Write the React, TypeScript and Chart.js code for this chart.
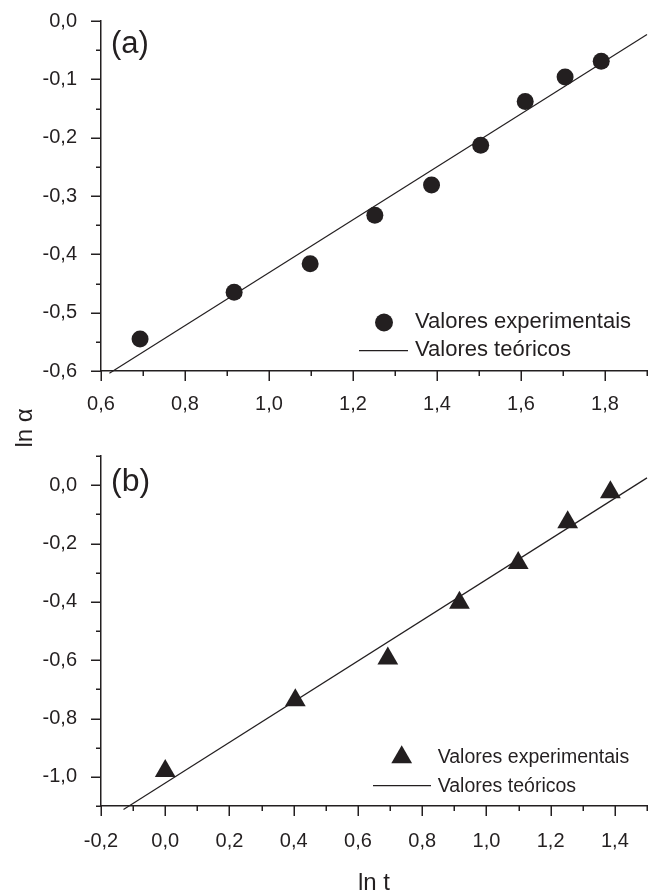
import React, { useEffect, useRef } from 'react';
import { Chart, registerables } from 'chart.js';

Chart.register(...registerables);

const INK = '#231f20';
const FONT = '"Liberation Sans", Arial, Helvetica, sans-serif';

// ---------- Panel (a) ----------
const aLnT = [0.693, 0.917, 1.098, 1.252, 1.387, 1.504, 1.61, 1.705, 1.791];
const aLnAlpha = [-0.545, -0.465, -0.416, -0.333, -0.281, -0.213, -0.138, -0.096, -0.069];
const aFitLnT = [0.62, 1.9];
const aFitLnAlpha = [-0.604, -0.023];
const aXTicks = [0.6, 0.8, 1.0, 1.2, 1.4, 1.6, 1.8];
const aXMinor = [0.7, 0.9, 1.1, 1.3, 1.5, 1.7, 1.9];
const aYTicks = [0, -0.1, -0.2, -0.3, -0.4, -0.5, -0.6];
const aYMinor = [-0.05, -0.15, -0.25, -0.35, -0.45, -0.55];

// ---------- Panel (b) ----------
const bLnT = [0.0, 0.405, 0.693, 0.916, 1.099, 1.253, 1.386];
const bLnAlpha = [-0.98, -0.737, -0.594, -0.403, -0.267, -0.127, -0.024];
const bFitLnT = [-0.13, 1.5];
const bFitLnAlpha = [-1.112, 0.025];
const bXTicks = [-0.2, 0.0, 0.2, 0.4, 0.6, 0.8, 1.0, 1.2, 1.4];
const bXMinor = [-0.1, 0.1, 0.3, 0.5, 0.7, 0.9, 1.1, 1.3, 1.5];
const bYTicks = [0.0, -0.2, -0.4, -0.6, -0.8, -1.0];
const bYMinor = [0.1, -0.1, -0.3, -0.5, -0.7, -0.9, -1.1];

const legendLabels = ['Valores experimentais', 'Valores teóricos'];
const xTitle = 'ln t';
const yTitle = 'ln α';

const fmt = (v: number) => v.toFixed(1).replace('.', ',');

function drawTriangle(ctx: CanvasRenderingContext2D, x: number, y: number, r: number) {
  ctx.beginPath();
  for (let k = 0; k < 3; k++) {
    const a = (k * 2 * Math.PI) / 3;
    const px = x + Math.sin(a) * r;
    const py = y - Math.cos(a) * r;
    if (k === 0) ctx.moveTo(px, py);
    else ctx.lineTo(px, py);
  }
  ctx.closePath();
  ctx.fill();
}

type DecorOpts = {
  xMajor: number[];
  xMinor: number[];
  yMajor: number[];
  yMinor: number[];
  panel: string;
  panelFont: number;
  panelDx: number;
  panelDy: number;
  marker: 'circle' | 'triangle';
  markerR: number;
  legend: { mx: number; my: number; tx: number; t1y: number; t2y: number; lx1: number; lx2: number; ly: number; font: number };
  drawYTitle?: boolean;
  drawXTitle?: boolean;
};

function makeDecor(o: DecorOpts) {
  return {
    id: 'decor',
    afterDraw(chart: any) {
      const ctx: CanvasRenderingContext2D = chart.ctx;
      const xs = chart.scales.x;
      const ys = chart.scales.y;
      const ca = chart.chartArea;
      ctx.save();
      ctx.strokeStyle = INK;
      ctx.fillStyle = INK;
      ctx.lineWidth = 1.5;
      ctx.beginPath();
      o.xMajor.forEach((v) => {
        const p = Math.round(xs.getPixelForValue(v)) + 0.25;
        ctx.moveTo(p, ca.bottom);
        ctx.lineTo(p, ca.bottom + 10);
      });
      o.xMinor.forEach((v) => {
        const p = Math.round(xs.getPixelForValue(v)) + 0.25;
        ctx.moveTo(p, ca.bottom);
        ctx.lineTo(p, ca.bottom + 5);
      });
      o.yMajor.forEach((v) => {
        const p = Math.round(ys.getPixelForValue(v)) + 0.25;
        ctx.moveTo(ca.left, p);
        ctx.lineTo(ca.left - 10, p);
      });
      o.yMinor.forEach((v) => {
        const p = Math.round(ys.getPixelForValue(v)) + 0.25;
        ctx.moveTo(ca.left, p);
        ctx.lineTo(ca.left - 5, p);
      });
      ctx.stroke();

      // panel label
      ctx.font = `${o.panelFont}px ${FONT}`;
      ctx.textAlign = 'left';
      ctx.textBaseline = 'alphabetic';
      ctx.fillText(o.panel, ca.left + o.panelDx, ca.top + o.panelDy);

      // legend
      const L = o.legend;
      if (o.marker === 'circle') {
        ctx.beginPath();
        ctx.arc(L.mx, L.my, o.markerR, 0, Math.PI * 2);
        ctx.fill();
      } else {
        drawTriangle(ctx, L.mx, L.my, o.markerR);
      }
      ctx.lineWidth = 1.2;
      ctx.beginPath();
      ctx.moveTo(L.lx1, L.ly);
      ctx.lineTo(L.lx2, L.ly);
      ctx.stroke();
      ctx.font = `${L.font}px ${FONT}`;
      ctx.textBaseline = 'middle';
      ctx.fillText(legendLabels[0], L.tx, L.t1y);
      ctx.fillText(legendLabels[1], L.tx, L.t2y);

      // axis titles
      if (o.drawYTitle) {
        ctx.save();
        ctx.translate(32, 428);
        ctx.rotate(-Math.PI / 2);
        ctx.font = `24px ${FONT}`;
        ctx.textAlign = 'center';
        ctx.textBaseline = 'alphabetic';
        ctx.fillText(yTitle, 0, 0);
        ctx.restore();
      }
      if (o.drawXTitle) {
        ctx.font = `24px ${FONT}`;
        ctx.textAlign = 'center';
        ctx.textBaseline = 'alphabetic';
        ctx.fillText(xTitle, 374, 890);
      }
      ctx.restore();
    },
  };
}

function makeConfig(p: {
  xs: number[];
  ys: number[];
  fitX: number[];
  fitY: number[];
  xMin: number;
  xMax: number;
  yMin: number;
  yMax: number;
  xTicks: number[];
  yTicks: number[];
  pointStyle: string;
  pointRadius: number;
  padTop: number;
  padBottom: number;
  xHeight: number;
  xPad: number;
  decor: DecorOpts;
}): any {
  return {
    type: 'scatter',
    data: {
      datasets: [
        {
          type: 'scatter',
          label: legendLabels[0],
          data: p.xs.map((x, i) => ({ x, y: p.ys[i] })),
          pointStyle: p.pointStyle,
          pointRadius: p.pointRadius,
          pointHoverRadius: p.pointRadius,
          backgroundColor: INK,
          borderColor: INK,
          borderWidth: 0,
          clip: false,
        },
        {
          type: 'line',
          label: legendLabels[1],
          data: p.fitX.map((x, i) => ({ x, y: p.fitY[i] })),
          borderColor: INK,
          borderWidth: 1.2,
          pointRadius: 0,
          fill: false,
          tension: 0,
          clip: false,
        },
      ],
    },
    options: {
      responsive: false,
      devicePixelRatio: 1,
      animation: false,
      events: [],
      layout: { autoPadding: false, padding: { top: p.padTop, bottom: p.padBottom, left: 0, right: 3 } },
      plugins: { legend: { display: false }, tooltip: { enabled: false }, title: { display: false } },
      scales: {
        x: {
          type: 'linear',
          min: p.xMin,
          max: p.xMax,
          afterBuildTicks: (s: any) => {
            s.ticks = p.xTicks.map((v) => ({ value: v }));
          },
          afterFit: (s: any) => {
            s.height = p.xHeight;
            s.paddingLeft = 0;
            s.paddingRight = 0;
            s.paddingTop = 0;
            s.paddingBottom = 0;
          },
          grid: { display: false, drawTicks: false },
          border: { display: true, color: INK, width: 1.5 },
          ticks: {
            color: INK,
            font: { family: FONT, size: 20 },
            padding: p.xPad,
            maxRotation: 0,
            autoSkip: false,
            callback: (v: any) => fmt(Number(v)),
          },
        },
        y: {
          type: 'linear',
          min: p.yMin,
          max: p.yMax,
          afterBuildTicks: (s: any) => {
            s.ticks = p.yTicks.map((v) => ({ value: v }));
          },
          afterFit: (s: any) => {
            s.width = 101;
            s.paddingLeft = 0;
            s.paddingRight = 0;
            s.paddingTop = 0;
            s.paddingBottom = 0;
          },
          grid: { display: false, drawTicks: false },
          border: { display: true, color: INK, width: 1.5 },
          ticks: {
            color: INK,
            font: { family: FONT, size: 20 },
            padding: 24,
            autoSkip: false,
            callback: (v: any) => fmt(Number(v)),
          },
        },
      },
    },
    plugins: [makeDecor(p.decor)],
  };
}

export default function App() {
  const refA = useRef<HTMLCanvasElement>(null);
  const refB = useRef<HTMLCanvasElement>(null);

  useEffect(() => {
    const chartA = new Chart(
      refA.current as HTMLCanvasElement,
      makeConfig({
        xs: aLnT,
        ys: aLnAlpha,
        fitX: aFitLnT,
        fitY: aFitLnAlpha,
        xMin: 0.6,
        xMax: 1.9,
        yMin: -0.6,
        yMax: 0.0,
        xTicks: aXTicks,
        yTicks: aYTicks,
        pointStyle: 'circle',
        pointRadius: 8.5,
        padTop: 21,
        padBottom: 892 - 371 - 60,
        xHeight: 60,
        xPad: 21,
        decor: {
          xMajor: aXTicks,
          xMinor: aXMinor,
          yMajor: aYTicks,
          yMinor: aYMinor,
          panel: '(a)',
          panelFont: 31,
          panelDx: 10,
          panelDy: 31.5,
          marker: 'circle',
          markerR: 9,
          legend: { mx: 384, my: 322.5, tx: 415, t1y: 321.5, t2y: 349.5, lx1: 359, lx2: 408, ly: 350.7, font: 22 },
          drawYTitle: true,
        },
      })
    );
    const chartB = new Chart(
      refB.current as HTMLCanvasElement,
      makeConfig({
        xs: bLnT,
        ys: bLnAlpha,
        fitX: bFitLnT,
        fitY: bFitLnAlpha,
        xMin: -0.2,
        xMax: 1.5,
        yMin: -1.1,
        yMax: 0.1,
        xTicks: bXTicks,
        yTicks: bYTicks,
        pointStyle: 'triangle',
        pointRadius: 12,
        padTop: 456,
        padBottom: 0,
        xHeight: 86,
        xPad: 23,
        decor: {
          xMajor: bXTicks,
          xMinor: bXMinor,
          yMajor: bYTicks,
          yMinor: bYMinor,
          panel: '(b)',
          panelFont: 32,
          panelDx: 10,
          panelDy: 34.5,
          marker: 'triangle',
          markerR: 12,
          legend: { mx: 401.7, my: 757.3, tx: 437.7, t1y: 758, t2y: 787, lx1: 373, lx2: 431, ly: 785.7, font: 19.5 },
          drawXTitle: true,
        },
      })
    );
    return () => {
      chartA.destroy();
      chartB.destroy();
    };
  }, []);

  return (
    <div style={{ position: 'absolute', left: 0, top: 0, width: 650, height: 892, background: '#ffffff' }}>
      <canvas ref={refA} width={650} height={892} style={{ position: 'absolute', left: 0, top: 0 }} />
      <canvas ref={refB} width={650} height={892} style={{ position: 'absolute', left: 0, top: 0 }} />
    </div>
  );
}
